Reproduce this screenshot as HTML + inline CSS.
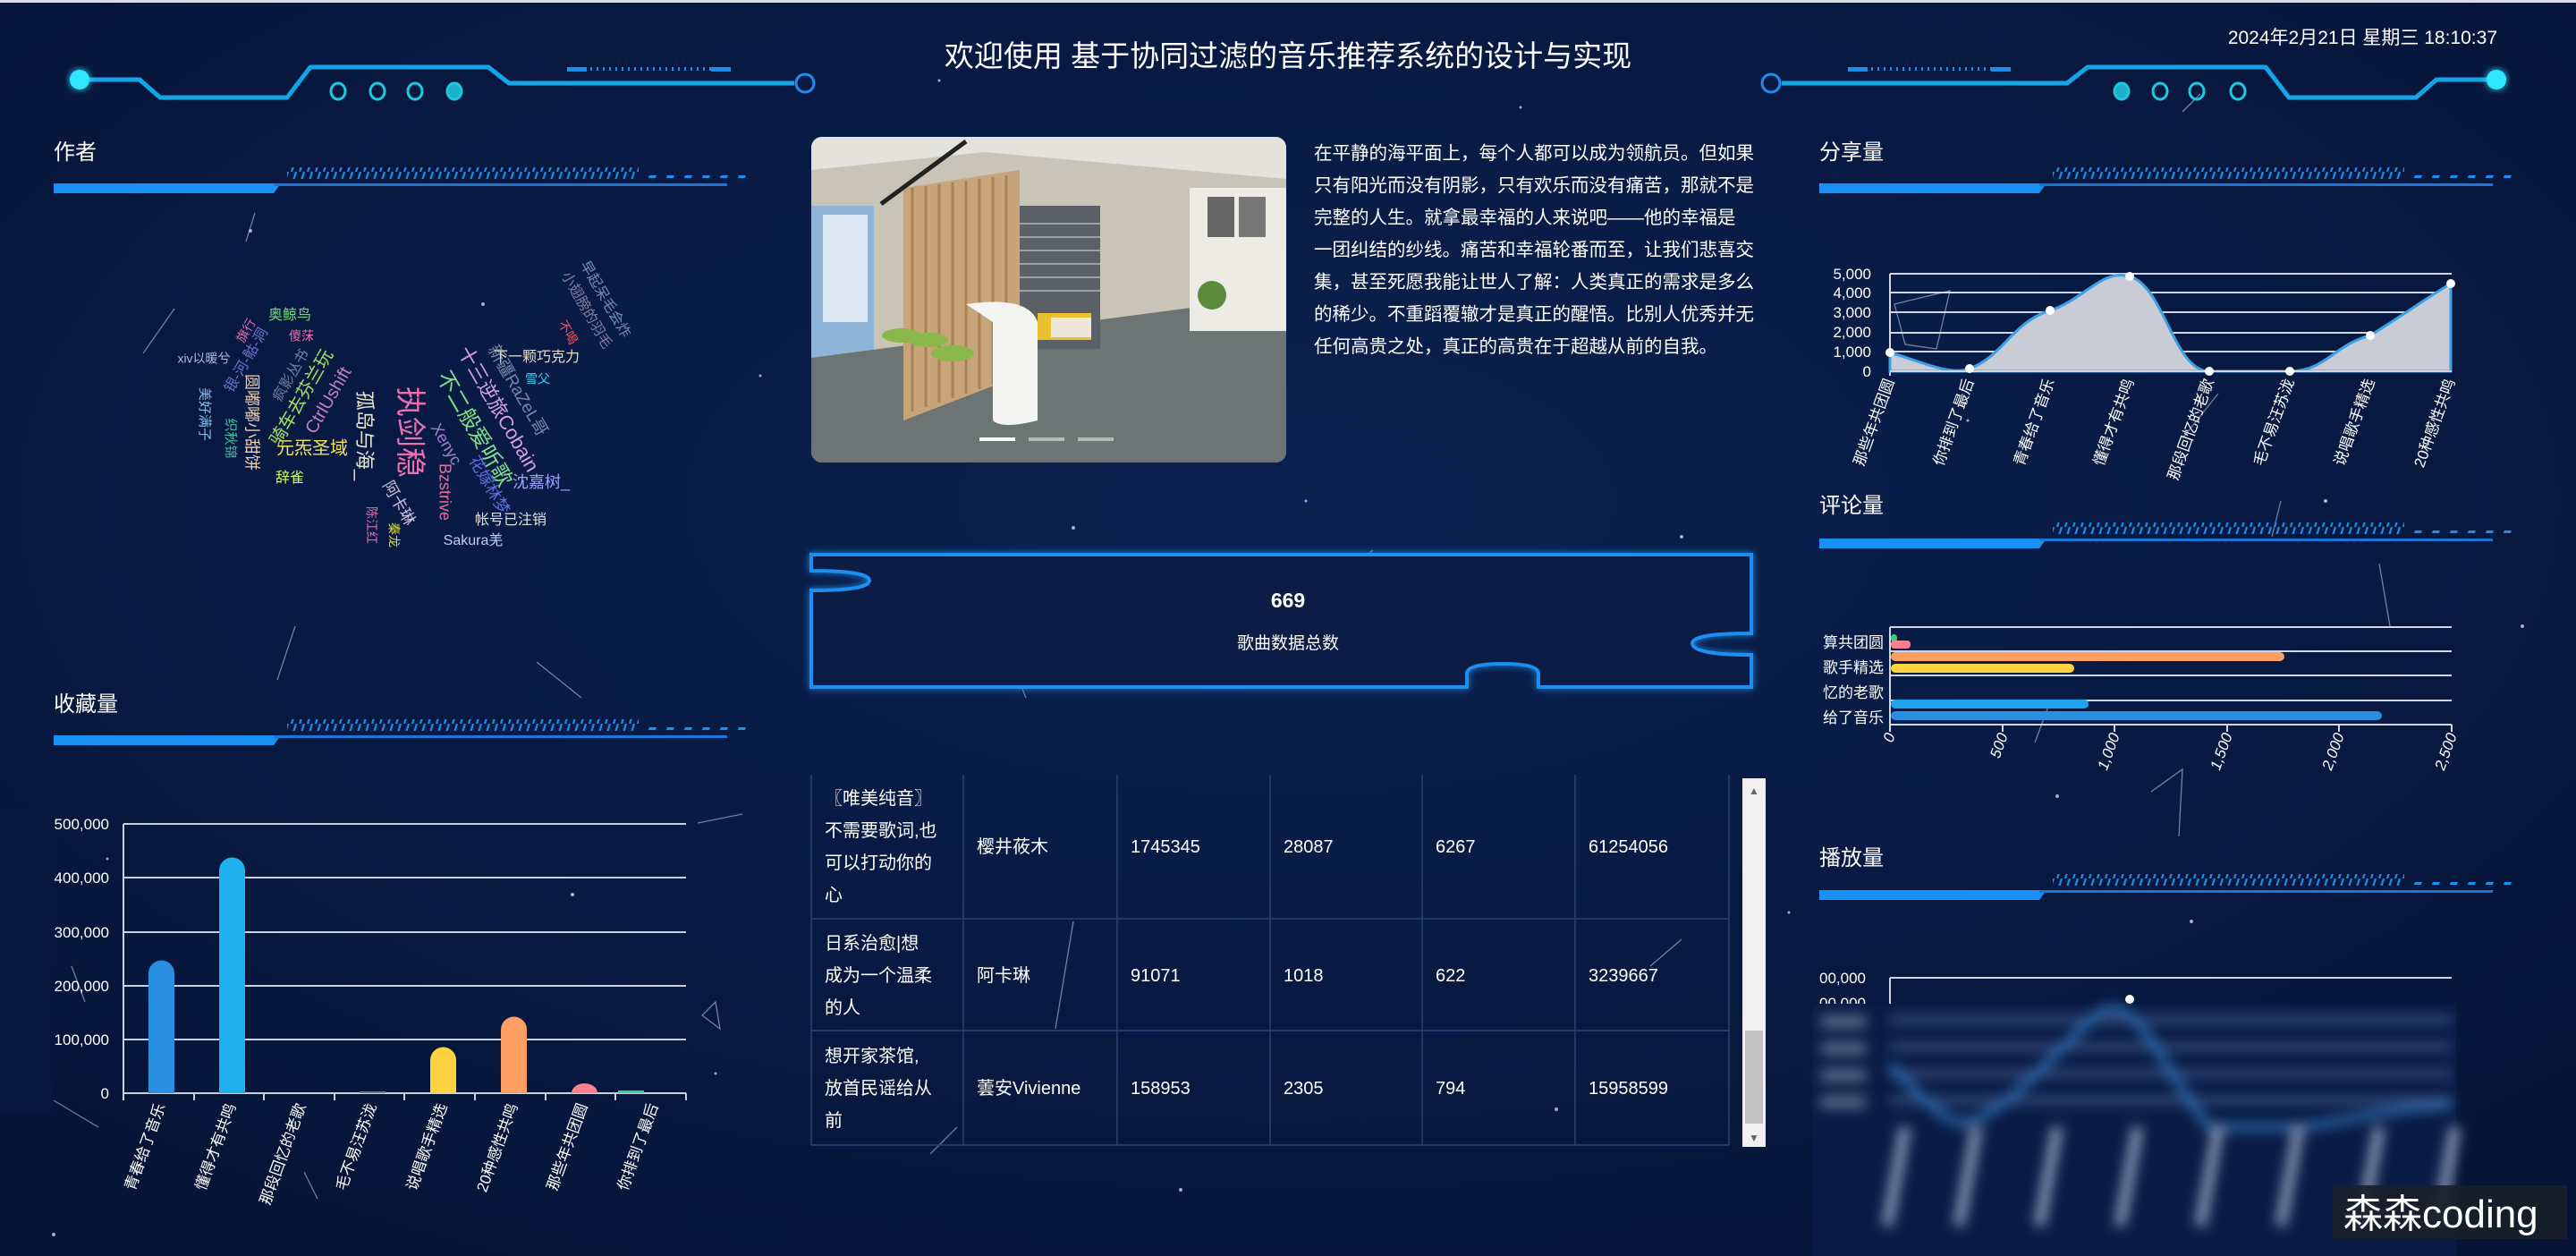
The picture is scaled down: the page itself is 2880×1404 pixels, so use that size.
<!DOCTYPE html>
<html><head><meta charset="utf-8"><style>
html,body{margin:0;padding:0;width:2880px;height:1404px;overflow:hidden;background:#07173d;}
svg{display:block}
text{font-family:"Liberation Sans","Noto Sans CJK SC",sans-serif;}
</style></head><body>
<svg width="2880" height="1404" viewBox="0 0 2880 1404" xmlns="http://www.w3.org/2000/svg">
<defs>
<radialGradient id="bg" cx="50%" cy="40%" r="70%"><stop offset="0" stop-color="#0b2150"/><stop offset="1" stop-color="#061437"/></radialGradient>
<pattern id="hatch" width="9" height="16" patternUnits="userSpaceOnUse"><path d="M2 16 L7 0" stroke="#1a8fe8" stroke-width="2.2"/></pattern>
<pattern id="dash" width="20" height="16" patternUnits="userSpaceOnUse"><path d="M3 12 L6 4 L14 4 L11 12Z" fill="#1d8ff0"/></pattern>
<filter id="glow" x="-20%" y="-20%" width="140%" height="140%"><feGaussianBlur stdDeviation="4" result="b"/><feMerge><feMergeNode in="b"/><feMergeNode in="SourceGraphic"/></feMerge></filter>
<filter id="blur"><feGaussianBlur stdDeviation="7"/></filter>
<clipPath id="imgclip"><rect x="907" y="153" width="531" height="364" rx="12"/></clipPath>
</defs>
<rect width="2880" height="1404" fill="url(#bg)"/>
<rect width="2880" height="3" fill="#d8dde6"/>

<!-- stars -->
<g fill="#c8d4ea" opacity="0.8">
<circle cx="280" cy="258" r="2"/><circle cx="540" cy="340" r="2"/><circle cx="850" cy="420" r="1.5"/><circle cx="1200" cy="590" r="2"/><circle cx="1880" cy="600" r="2"/><circle cx="2200" cy="470" r="1.5"/><circle cx="2600" cy="560" r="2"/><circle cx="2820" cy="700" r="2"/><circle cx="120" cy="960" r="1.5"/><circle cx="640" cy="1000" r="2"/><circle cx="800" cy="1200" r="1.5"/><circle cx="1320" cy="1330" r="2"/><circle cx="1740" cy="1240" r="2"/><circle cx="2000" cy="1020" r="1.5"/><circle cx="2300" cy="890" r="2"/><circle cx="1050" cy="90" r="1.5"/><circle cx="1700" cy="120" r="1.5"/><circle cx="2450" cy="1030" r="2"/><circle cx="60" cy="1380" r="2"/><circle cx="1460" cy="560" r="1.5"/>
</g>
<g stroke="#b8c6e0" stroke-width="1.3" opacity="0.6" fill="none">
<path d="M285 238 L275 270"/><path d="M160 395 L195 345"/><path d="M1505 638 L1535 615"/><path d="M1085 745 L1130 730"/><path d="M1080 757 L1137 755 L1147 780"/><path d="M1735 705 L1730 770"/><path d="M2440 125 L2460 105"/><path d="M2118 340 L2180 325 L2165 390 L2130 385Z"/><path d="M2440 490 L2480 440"/><path d="M2550 560 L2540 600"/><path d="M2660 630 L2672 700"/><path d="M2290 790 L2275 830"/><path d="M2405 885 L2440 860 L2436 935"/><path d="M780 920 L830 910"/><path d="M600 740 L650 780"/><path d="M1200 1030 L1180 1150"/><path d="M1070 1260 L1040 1290"/><path d="M2290 1175 L2305 1255"/><path d="M330 700 L310 760"/><path d="M80 1080 L95 1120"/><path d="M60 1230 L110 1260"/><path d="M785 1135 L805 1150 L800 1120Z"/><path d="M355 1340 L340 1310"/><path d="M1845 1080 L1880 1050"/>
</g>

<!-- top left deco -->
<g fill="none" stroke-linejoin="round">
<path d="M89 89 L156 89 L179 109 L321 109 L347 75 L546 75 L569 93 L888 93" stroke="#12a6e8" stroke-width="5"/>
<circle cx="900" cy="93" r="10" stroke="#1a8ff0" stroke-width="3"/>
<circle cx="89" cy="89" r="11" fill="#2ee6ff" filter="url(#glow)"/>
<g stroke="#1fc8e0" stroke-width="3"><ellipse cx="378" cy="102" rx="8" ry="9"/><ellipse cx="422" cy="102" rx="8" ry="9"/><ellipse cx="464" cy="102" rx="8" ry="9"/><ellipse cx="508" cy="102" rx="8" ry="9" fill="#1ab0c8"/></g>
<rect x="634" y="75" width="22" height="5" fill="#1a8ff0" stroke="none"/><path d="M660 77 H795" stroke="#1a8ff0" stroke-width="4" stroke-dasharray="2 5"/><rect x="795" y="75" width="22" height="5" fill="#1a8ff0" stroke="none"/>
</g>
<!-- top right deco -->
<g fill="none" stroke-linejoin="round">
<path d="M2791 89 L2724 89 L2701 109 L2559 109 L2533 75 L2334 75 L2311 93 L1992 93" stroke="#12a6e8" stroke-width="5"/>
<circle cx="1980" cy="93" r="10" stroke="#1a8ff0" stroke-width="3"/>
<circle cx="2791" cy="89" r="11" fill="#2ee6ff" filter="url(#glow)"/>
<g stroke="#1fc8e0" stroke-width="3"><ellipse cx="2372" cy="102" rx="8" ry="9" fill="#1ab0c8"/><ellipse cx="2415" cy="102" rx="8" ry="9"/><ellipse cx="2456" cy="102" rx="8" ry="9"/><ellipse cx="2502" cy="102" rx="8" ry="9"/></g>
<rect x="2066" y="75" width="22" height="5" fill="#1a8ff0" stroke="none"/><path d="M2092 77 H2226" stroke="#1a8ff0" stroke-width="4" stroke-dasharray="2 5"/><rect x="2226" y="75" width="22" height="5" fill="#1a8ff0" stroke="none"/>
</g>

<text x="1440" y="74" font-size="33" fill="#ffffff" text-anchor="middle">欢迎使用 基于协同过滤的音乐推荐系统的设计与实现</text>
<text x="2792" y="49" font-size="21" fill="#ffffff" text-anchor="end">2024年2月21日 星期三 18:10:37</text>

<!-- section headers -->
<g font-size="24" fill="#ffffff">
<text x="60" y="178">作者</text>
<text x="60" y="795">收藏量</text>
<text x="2034" y="178">分享量</text>
<text x="2034" y="573">评论量</text>
<text x="2034" y="967">播放量</text>
</g>
<g id="bar1">
<rect x="321" y="187" width="393" height="13" fill="url(#hatch)"/>
<rect x="716" y="189" width="128" height="10" fill="url(#dash)"/>
<path d="M60 205 H314 L306 216 H60Z" fill="#1890f5"/>
<rect x="306" y="205" width="507" height="3" fill="#1677d8"/>
</g>
<use href="#bar1" y="617"/>
<use href="#bar1" x="1974"/>
<use href="#bar1" x="1974" y="397"/>
<use href="#bar1" x="1974" y="790"/>

<!-- word cloud -->
<g>
<text font-size="34" fill="#ee6fb0" transform="translate(456,483) rotate(90)" text-anchor="middle" dominant-baseline="middle">执剑稳</text>
<text font-size="22" fill="#e8e8d0" transform="translate(406,487) rotate(90)" text-anchor="middle" dominant-baseline="middle">孤岛与海_</text>
<text font-size="24" fill="#7fe08a" transform="translate(529,480) rotate(60)" text-anchor="middle" dominant-baseline="middle">不二般爱听歌</text>
<text font-size="22" fill="#d7a0e0" transform="translate(556,458) rotate(60)" text-anchor="middle" dominant-baseline="middle">十三逆旅Cobain</text>
<text font-size="19" fill="#7888a8" transform="translate(578,437) rotate(60)" text-anchor="middle" dominant-baseline="middle">新疆RaZeL哥</text>
<text font-size="18" fill="#a080d0" transform="translate(498,497) rotate(60)" text-anchor="middle" dominant-baseline="middle">Xenyc</text>
<text font-size="18" fill="#e070a0" transform="translate(496,550) rotate(90)" text-anchor="middle" dominant-baseline="middle">Bzstrive</text>
<text font-size="18" fill="#6070e0" transform="translate(546,543) rotate(60)" text-anchor="middle" dominant-baseline="middle">花嫁林梦</text>
<text font-size="18" fill="#a0a0ff" x="605" y="540" text-anchor="middle" dominant-baseline="middle">沈嘉树_</text>
<text font-size="16" fill="#e0e0e0" x="571" y="582" text-anchor="middle" dominant-baseline="middle">帐号已注销</text>
<text font-size="16" fill="#c0c8ff" x="529" y="605" text-anchor="middle" dominant-baseline="middle">Sakura羌</text>
<text font-size="18" fill="#d0c0e0" transform="translate(445,563) rotate(60)" text-anchor="middle" dominant-baseline="middle">阿卡琳</text>
<text font-size="14" fill="#e070b0" transform="translate(414,587) rotate(90)" text-anchor="middle" dominant-baseline="middle">陈江红</text>
<text font-size="14" fill="#e0e040" transform="translate(439,598) rotate(90)" text-anchor="middle" dominant-baseline="middle">秦龙</text>
<text font-size="16" fill="#d0ff60" x="324" y="535" text-anchor="middle" dominant-baseline="middle">辞雀</text>
<text font-size="20" fill="#f0e060" x="349" y="502" text-anchor="middle" dominant-baseline="middle">元炁圣域</text>
<text font-size="20" fill="#c080c0" transform="translate(368,448) rotate(-60)" text-anchor="middle" dominant-baseline="middle">CtrlUshift</text>
<text font-size="20" fill="#a0e060" transform="translate(338,445) rotate(-60)" text-anchor="middle" dominant-baseline="middle">骑车去芬兰玩</text>
<text font-size="16" fill="#7080a0" transform="translate(326,420) rotate(-60)" text-anchor="middle" dominant-baseline="middle">疯影丛书</text>
<text font-size="18" fill="#f0d0b0" transform="translate(280,472) rotate(90)" text-anchor="middle" dominant-baseline="middle">圆嘟嘟小甜饼</text>
<text font-size="15" fill="#40c0a0" transform="translate(257,490) rotate(90)" text-anchor="middle" dominant-baseline="middle">织秋锦</text>
<text font-size="15" fill="#80c0f0" transform="translate(228,463) rotate(90)" text-anchor="middle" dominant-baseline="middle">美好满子</text>
<text font-size="16" fill="#7070d0" transform="translate(276,403) rotate(-60)" text-anchor="middle" dominant-baseline="middle">银-河-骷-洞</text>
<text font-size="14" fill="#a0c0e0" x="228" y="402" text-anchor="middle" dominant-baseline="middle">xiv以暖兮</text>
<text font-size="14" fill="#e070b0" transform="translate(276,370) rotate(-60)" text-anchor="middle" dominant-baseline="middle">旗行</text>
<text font-size="16" fill="#70e070" x="324" y="353" text-anchor="middle" dominant-baseline="middle">奥鲸鸟</text>
<text font-size="14" fill="#f070b0" x="337" y="377" text-anchor="middle" dominant-baseline="middle">傻莯</text>
<text font-size="16" fill="#e8d8c0" x="600" y="400" text-anchor="middle" dominant-baseline="middle">下一颗巧克力</text>
<text font-size="14" fill="#40c8f0" x="601" y="425" text-anchor="middle" dominant-baseline="middle">雪父</text>
<text font-size="16" fill="#8080a0" transform="translate(655,347) rotate(60)" text-anchor="middle" dominant-baseline="middle">小翅膀的羽毛</text>
<text font-size="16" fill="#7090b0" transform="translate(676,335) rotate(60)" text-anchor="middle" dominant-baseline="middle">早起呆毛会炸</text>
<text font-size="14" fill="#ff5060" transform="translate(634,372) rotate(60)" text-anchor="middle" dominant-baseline="middle">不喝</text>
</g>

<!-- image -->
<g clip-path="url(#imgclip)">
<rect x="907" y="153" width="531" height="364" fill="#c9c4b8"/>
<polygon points="907,153 1438,153 1438,200 1100,170 907,190" fill="#e4e2dc"/>
<rect x="907" y="230" width="70" height="220" fill="#8fb4d8"/>
<rect x="920" y="240" width="50" height="120" fill="#dfe8f2"/>
<polygon points="907,400 1438,330 1438,517 907,517" fill="#6d7574"/>
<polygon points="1010,210 1140,190 1140,420 1010,470" fill="#c8a47a"/>
<g stroke="#a88254" stroke-width="3"><path d="M1020 210 V460M1035 208 V455M1050 206 V450M1065 204 V445M1080 202 V440M1095 200 V435M1110 198 V430M1125 196 V425"/></g>
<rect x="1140" y="230" width="90" height="160" fill="#5b6066"/>
<g stroke="#9aa0a6" stroke-width="2"><path d="M1140 250H1230M1140 265H1230M1140 280H1230M1140 295H1230M1140 310H1230M1140 325H1230"/></g>
<path d="M1080 340 Q1150 330 1160 360 V470 Q1120 480 1110 470 V360 Z" fill="#f4f4f2"/>
<rect x="1160" y="350" width="60" height="30" fill="#e8c030"/><rect x="1175" y="355" width="45" height="22" fill="#efe6dc"/>
<ellipse cx="1008" cy="375" rx="22" ry="8" fill="#8ab84a"/><ellipse cx="1038" cy="380" rx="22" ry="8" fill="#8ab84a"/><ellipse cx="1065" cy="395" rx="24" ry="9" fill="#8ab84a"/>
<rect x="1330" y="210" width="108" height="160" fill="#ecebe6"/>
<rect x="1350" y="220" width="30" height="45" fill="#666"/><rect x="1385" y="220" width="30" height="45" fill="#777"/>
<circle cx="1355" cy="330" r="16" fill="#5b8a3a"/>
<g stroke="#222" stroke-width="5"><path d="M985 228 L1080 158"/></g>
</g>
<g stroke-width="4"><path d="M1095 491 H1135" stroke="#ffffff"/><path d="M1150 491 H1190" stroke="#b8b8b8"/><path d="M1205 491 H1245" stroke="#b8b8b8"/></g>

<!-- paragraph -->
<g font-size="20.5" fill="#ffffff">
<text x="1469" y="178">在平静的海平面上，每个人都可以成为领航员。但如果</text>
<text x="1469" y="214">只有阳光而没有阴影，只有欢乐而没有痛苦，那就不是</text>
<text x="1469" y="250">完整的人生。就拿最幸福的人来说吧——他的幸福是</text>
<text x="1469" y="286">一团纠结的纱线。痛苦和幸福轮番而至，让我们悲喜交</text>
<text x="1469" y="322">集，甚至死愿我能让世人了解：人类真正的需求是多么</text>
<text x="1469" y="358">的稀少。不重蹈覆辙才是真正的醒悟。比别人优秀并无</text>
<text x="1469" y="394">任何高贵之处，真正的高贵在于超越从前的自我。</text>
</g>

<!-- puzzle box -->
<path d="M907 620 H1958 V708 Q1892 708 1892 719 Q1892 732 1958 732 V768 H1720 V753 Q1720 742 1680 742 Q1640 742 1640 753 V768 H907 V660 Q972 660 972 649 Q972 638 907 638 Z" fill="#071a45" stroke="#1a8ff0" stroke-width="4" filter="url(#glow)"/>
<text x="1440" y="679" font-size="23" font-weight="bold" fill="#ffffff" text-anchor="middle">669</text>
<text x="1440" y="725" font-size="19" fill="#ffffff" text-anchor="middle">歌曲数据总数</text>

<!-- table -->
<g stroke="#2a4372" stroke-width="1.5" fill="none">
<path d="M907 866 V1280 M1077 866 V1280 M1249 866 V1280 M1420 866 V1280 M1590 866 V1280 M1761 866 V1280 M1933 866 V1280"/>
<path d="M907 1027 H1933 M907 1152 H1933 M907 1280 H1933"/>
</g>
<rect x="1948" y="870" width="26" height="412" fill="#f0f0f0"/>
<rect x="1951" y="1152" width="20" height="104" fill="#c1c1c1"/>
<text x="1961" y="888" font-size="12" fill="#666" text-anchor="middle">▲</text>
<text x="1961" y="1276" font-size="12" fill="#666" text-anchor="middle">▼</text>
<g font-size="20" fill="#ffffff">
<text x="922" y="899">〖唯美纯音〗</text><text x="922" y="935">不需要歌词,也</text><text x="922" y="971">可以打动你的</text><text x="922" y="1007">心</text>
<text x="1092" y="953">樱井莜木</text><text x="1264" y="953">1745345</text><text x="1435" y="953">28087</text><text x="1605" y="953">6267</text><text x="1776" y="953">61254056</text>
<text x="922" y="1061">日系治愈|想</text><text x="922" y="1097">成为一个温柔</text><text x="922" y="1133">的人</text>
<text x="1092" y="1097">阿卡琳</text><text x="1264" y="1097">91071</text><text x="1435" y="1097">1018</text><text x="1605" y="1097">622</text><text x="1776" y="1097">3239667</text>
<text x="922" y="1187">想开家茶馆,</text><text x="922" y="1223">放首民谣给从</text><text x="922" y="1259">前</text>
<text x="1092" y="1223">蕓安Vivienne</text><text x="1264" y="1223">158953</text><text x="1435" y="1223">2305</text><text x="1605" y="1223">794</text><text x="1776" y="1223">15958599</text>
</g>

<!-- 收藏量 bar chart -->
<g stroke="#c8d0e0" stroke-width="2">
<path d="M138 921 H767 M138 981 H767 M138 1042 H767 M138 1102 H767 M138 1162 H767 M138 1222 H767"/>
<path d="M138 921 V1230"/>
<path d="M138 1222 V1230 M217 1222 V1230 M295 1222 V1230 M374 1222 V1230 M452 1222 V1230 M531 1222 V1230 M610 1222 V1230 M688 1222 V1230 M767 1222 V1230"/>
</g>
<g font-size="17" fill="#ffffff" text-anchor="end">
<text x="122" y="927">500,000</text><text x="122" y="987">400,000</text><text x="122" y="1048">300,000</text><text x="122" y="1108">200,000</text><text x="122" y="1168">100,000</text><text x="122" y="1228">0</text>
</g>
<rect x="0" y="905" width="58" height="340" fill="#07173d"/>
<g>
<path d="M166 1222 V1088 A14.5 14.5 0 0 1 195 1088 V1222Z" fill="#2a8fe0"/>
<path d="M245 1222 V973 A14.5 14.5 0 0 1 274 973 V1222Z" fill="#1fb0ee"/>
<rect x="402" y="1220" width="29" height="2" fill="#6a7d90"/>
<path d="M481 1222 V1185 A14.5 14.5 0 0 1 510 1185 V1222Z" fill="#ffd23f"/>
<path d="M560 1222 V1151 A14.5 14.5 0 0 1 589 1151 V1222Z" fill="#ff9f63"/>
<path d="M639 1222 A14.5 11 0 0 1 668 1222Z" fill="#ff7f8f"/>
<rect x="691" y="1219" width="29" height="3" fill="#3ad0a0"/>
</g>
<g font-size="17" fill="#ffffff" text-anchor="end">
<text transform="translate(185,1236) rotate(-70)">青春给了音乐</text>
<text transform="translate(264,1236) rotate(-70)">懂得才有共鸣</text>
<text transform="translate(342,1236) rotate(-70)">那段回忆的老歌</text>
<text transform="translate(421,1236) rotate(-70)">毛不易汪苏泷</text>
<text transform="translate(500,1236) rotate(-70)">说唱歌手精选</text>
<text transform="translate(579,1236) rotate(-70)">20种感性共鸣</text>
<text transform="translate(657,1236) rotate(-70)">那些年共团圆</text>
<text transform="translate(736,1236) rotate(-70)">你排到了最后</text>
</g>

<!-- 分享量 area chart -->
<g stroke="#d0d6e2" stroke-width="2"><path d="M2113 306 H2741 M2113 327 H2741 M2113 349 H2741 M2113 372 H2741 M2113 393 H2741 M2113 415 H2741"/><path d="M2113 306 V420"/></g>
<path d="M2113 394 C2150 405 2180 420 2202 412 C2240 398 2250 360 2292 347 C2330 335 2350 300 2381 309 C2420 320 2430 415 2470 415 L2560 415 C2600 415 2610 385 2650 375 C2690 350 2710 335 2740 317 L2740 415 L2113 415Z" fill="#c9ccd4" stroke="#3aa0e8" stroke-width="3"/>
<g stroke="#d0d6e2" stroke-width="2"><path d="M2113 415 H2741"/></g>
<g fill="#ffffff"><circle cx="2113" cy="394" r="5"/><circle cx="2202" cy="412" r="5"/><circle cx="2292" cy="347" r="5"/><circle cx="2381" cy="309" r="5"/><circle cx="2470" cy="415" r="5"/><circle cx="2560" cy="415" r="5"/><circle cx="2650" cy="375" r="5"/><circle cx="2740" cy="317" r="5"/></g>
<g font-size="17" fill="#ffffff" text-anchor="end">
<text x="2092" y="312">5,000</text><text x="2092" y="333">4,000</text><text x="2092" y="355">3,000</text><text x="2092" y="377">2,000</text><text x="2092" y="399">1,000</text><text x="2092" y="421">0</text>
</g>
<g font-size="17" fill="#ffffff" text-anchor="end">
<text transform="translate(2118,426) rotate(-70)">那些年共团圆</text>
<text transform="translate(2207,426) rotate(-70)">你排到了最后</text>
<text transform="translate(2297,426) rotate(-70)">青春给了音乐</text>
<text transform="translate(2386,426) rotate(-70)">懂得才有共鸣</text>
<text transform="translate(2475,426) rotate(-70)">那段回忆的老歌</text>
<text transform="translate(2565,426) rotate(-70)">毛不易汪苏泷</text>
<text transform="translate(2655,426) rotate(-70)">说唱歌手精选</text>
<text transform="translate(2745,426) rotate(-70)">20种感性共鸣</text>
</g>

<!-- 评论量 horizontal bars -->
<g stroke="#d0d6e2" stroke-width="2"><path d="M2113 701 H2741 M2113 728 H2741 M2113 755 H2741 M2113 783 H2741 M2113 810 H2741"/><path d="M2113 701 V812 M2113 810 V818 M2239 810 V818 M2364 810 V818 M2490 810 V818 M2615 810 V818 M2741 810 V818"/></g>
<rect x="2114" y="709" width="7" height="9" rx="4" fill="#3ad070"/>
<rect x="2114" y="716" width="22" height="9" rx="4" fill="#ff7f8f"/>
<rect x="2114" y="729" width="440" height="10" rx="5" fill="#ff9f63"/>
<rect x="2114" y="742" width="205" height="10" rx="5" fill="#ffd23f"/>
<rect x="2114" y="782" width="221" height="10" rx="5" fill="#1fa3ee"/>
<rect x="2114" y="795" width="549" height="10" rx="5" fill="#2a8fe0"/>
<g font-size="17" fill="#ffffff" text-anchor="end">
<text x="2106" y="724">算共团圆</text><text x="2106" y="752">歌手精选</text><text x="2106" y="780">忆的老歌</text><text x="2106" y="808">给了音乐</text>
</g>
<g font-size="17" fill="#ffffff" text-anchor="end" font-style="italic">
<text transform="translate(2119,822) rotate(-70)">0</text>
<text transform="translate(2245,822) rotate(-70)">500</text>
<text transform="translate(2370,822) rotate(-70)">1,000</text>
<text transform="translate(2496,822) rotate(-70)">1,500</text>
<text transform="translate(2621,822) rotate(-70)">2,000</text>
<text transform="translate(2747,822) rotate(-70)">2,500</text>
</g>

<!-- 播放量 -->
<path d="M2113 1093 H2741 M2113 1093 V1125" stroke="#d0d6e2" stroke-width="2"/>
<text x="2034" y="1099" font-size="17" fill="#ffffff">00,000</text>
<text x="2034" y="1127" font-size="17" fill="#ffffff">00,000</text>
<circle cx="2381" cy="1117" r="5" fill="#ffffff"/>
<rect x="2026" y="1122" width="720" height="282" fill="#0a1c45"/>
<g filter="url(#blur)">
<g stroke="#3a5080" stroke-width="8"><path d="M2113 1140 H2741 M2113 1170 H2741 M2113 1200 H2741 M2113 1230 H2741"/></g>
<g fill="#5a6a88"><rect x="2036" y="1135" width="50" height="14"/><rect x="2036" y="1165" width="50" height="14"/><rect x="2036" y="1195" width="50" height="14"/><rect x="2036" y="1225" width="50" height="14"/></g>
<path d="M2113 1190 C2150 1230 2180 1260 2200 1255 C2250 1240 2300 1170 2350 1130 C2390 1110 2420 1200 2470 1260 L2560 1260 C2610 1260 2650 1240 2741 1235" fill="none" stroke="#2a70b0" stroke-width="8"/>
<g stroke="#8a9ab8" stroke-width="12"><path d="M2130 1260 L2110 1370 M2210 1260 L2190 1370 M2300 1260 L2280 1370 M2390 1260 L2370 1370 M2480 1260 L2460 1370 M2570 1260 L2550 1370 M2660 1260 L2640 1370 M2745 1260 L2725 1370"/></g>
</g>
<rect x="2608" y="1325" width="262" height="60" fill="#1a1f2a" opacity="0.9"/>
<text x="2620" y="1372" font-size="44" fill="#ffffff">森森coding</text>
</svg>
</body></html>
